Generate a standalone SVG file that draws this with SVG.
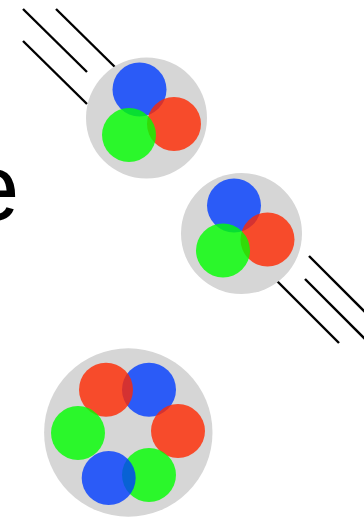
<svg xmlns="http://www.w3.org/2000/svg" width="364" height="517" viewBox="0 0 364 517">
  <style>
    .shell { fill: #d6d6d6; }
    .q { fill-opacity: 0.8; }
    .b { fill: rgb(0,60,255); }
    .r { fill: rgb(255,40,0); }
    .g { fill: rgb(0,255,0); }
    .trail { stroke: #000; stroke-width: 2.4; fill: none; }
    .label { font-family: "Liberation Sans", Arial, sans-serif; font-size: 94px; fill: #000; }
  </style>
  <rect width="364" height="517" fill="#fff"/>

  <text class="label" x="-33" y="220">e</text>

  <g id="trails">
    <line class="trail" x1="23" y1="9" x2="87" y2="72"/>
    <line class="trail" x1="56" y1="9" x2="120" y2="72"/>
    <line class="trail" x1="23" y1="41" x2="87" y2="104"/>
    <line class="trail" x1="276" y1="280" x2="339" y2="343"/>
    <line class="trail" x1="305" y1="279" x2="375" y2="349"/>
    <line class="trail" x1="309" y1="256" x2="375" y2="322"/>
  </g>

  <g id="baryon-top">
    <circle class="shell" cx="146.5" cy="118" r="60.5"/>
    <circle class="q b" cx="139.5" cy="89.5" r="27"/>
    <circle class="q r" cx="174" cy="124" r="27"/>
    <circle class="q g" cx="129" cy="135" r="27"/>
  </g>

  <g id="baryon-mid">
    <circle class="shell" cx="241.5" cy="233.5" r="60.5"/>
    <circle class="q b" cx="234" cy="205.5" r="27"/>
    <circle class="q r" cx="267.5" cy="239.5" r="27"/>
    <circle class="q g" cx="223" cy="250.5" r="27"/>
  </g>

  <g id="hexaquark">
    <circle class="shell" cx="128.3" cy="432.5" r="84.2"/>
    <circle class="q b" cx="149" cy="389.7" r="27"/>
    <circle class="q r" cx="106" cy="389.7" r="27"/>
    <circle class="q r" cx="178" cy="431" r="27"/>
    <circle class="q g" cx="78" cy="433" r="27"/>
    <circle class="q g" cx="149" cy="475" r="27"/>
    <circle class="q b" cx="108.7" cy="478" r="27"/>
  </g>
</svg>
